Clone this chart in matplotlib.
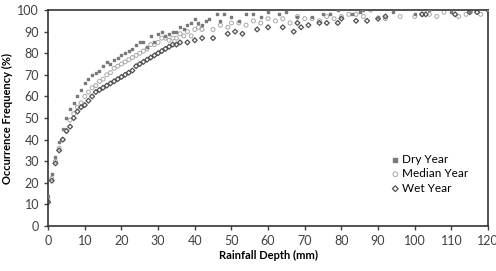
import matplotlib.pyplot as plt

# rainfall depth (mm) and occurrence frequency (%)
dry_x = [0, 1, 2, 3, 4, 5, 6, 7, 8, 9, 10, 11, 12, 13, 14, 15, 16, 17, 18, 19,
         20, 21, 22, 23, 24, 25, 26, 27, 28, 29, 30, 31, 32, 33, 34, 35, 36, 37, 38, 39,
         40, 41, 42, 43, 44, 46, 47, 48, 50, 52, 54, 56, 58, 60, 63, 65, 68, 72, 75,
         77, 79, 83, 85, 86, 90, 94, 100, 104, 110, 115, 120]
dry_y = [14, 24, 32, 39, 45, 50, 54, 57, 60, 63, 66, 68, 70, 71, 72, 74, 76, 75, 77, 78,
         79, 80, 81, 82, 84, 85, 85, 83, 88, 85, 89, 90, 88, 89, 90, 90, 92, 91, 93, 94,
         96, 94, 93, 95, 96, 98, 95, 98, 97, 95, 98, 98, 97, 99, 98, 99, 97, 97, 98,
         98, 100, 98, 99, 100, 97, 99, 98, 100, 99, 99, 100]

med_x = [0, 1, 2, 3, 4, 5, 6, 7, 8, 9, 10, 11, 12, 13, 14, 15, 16, 17, 18, 19,
         20, 21, 22, 23, 24, 25, 26, 27, 28, 29, 30, 31, 32, 33, 34, 35, 36, 37, 38, 39,
         40, 41, 42, 45, 47, 49, 50, 52, 54, 56, 58, 60, 62, 64, 66, 68, 70, 72, 74, 76,
         78, 80, 82, 84, 86, 88, 92, 96, 100, 102, 104, 106, 108, 112, 114, 118]
med_y = [12, 22, 30, 36, 40, 44, 49, 52, 55, 57, 60, 62, 64, 65, 67, 68, 70, 71, 73, 74,
         75, 76, 77, 78, 79, 80, 81, 82, 84, 84, 85, 87, 87, 86, 87, 87, 89, 88, 90, 88,
         91, 92, 91, 91, 93, 92, 94, 94, 93, 95, 94, 96, 95, 96, 94, 97, 96, 96, 95, 97,
         96, 97, 98, 98, 97, 100, 96, 97, 97, 98, 98, 97, 99, 97, 98, 98]

wet_x = [0, 1, 2, 3, 4, 5, 6, 7, 8, 9, 10, 11, 12, 13, 14, 15, 16, 17, 18, 19,
         20, 21, 22, 23, 24, 25, 26, 27, 28, 29, 30, 31, 32, 33, 34, 35, 36, 38, 40, 42,
         45, 49, 51, 53, 57, 60, 64, 67, 68, 69, 71, 74, 76, 79, 80, 84, 87, 90, 92,
         102, 103, 111, 115, 117, 120]
wet_y = [11, 21, 29, 35, 40, 44, 46, 50, 53, 55, 56, 58, 60, 62, 63, 64, 65, 66, 67, 68,
         69, 70, 71, 72, 74, 75, 76, 77, 78, 79, 80, 81, 82, 83, 84, 84, 85, 85, 86, 87,
         87, 89, 90, 89, 91, 92, 92, 90, 94, 92, 93, 94, 94, 94, 96, 95, 95, 96, 97,
         98, 98, 98, 99, 99, 100]

plt.rcParams['font.family'] = ['Lato', 'DejaVu Sans']

fig = plt.figure(figsize=(4.96, 2.71), dpi=100)
ax = fig.add_axes([0.097, 0.166, 0.887, 0.797])

ax.scatter(dry_x, dry_y, marker='s', s=4, color='#7a7a7a', label='Dry Year', zorder=3)
ax.scatter(med_x, med_y, marker='o', s=8, facecolors='none', edgecolors='#a8a8a8',
           linewidths=0.7, label='Median Year', zorder=2)
ax.scatter(wet_x, wet_y, marker='D', s=6, facecolors='none', edgecolors='#505050',
           linewidths=0.9, label='Wet Year', zorder=2)

ax.set_xlim(0, 120)
ax.set_ylim(0, 100)
ax.set_xticks(range(0, 121, 10))
ax.set_yticks(range(0, 101, 10))
ax.tick_params(labelsize=9, colors='#404040', length=3, width=1)
for sp in ax.spines.values():
    sp.set_color('#333333')
    sp.set_linewidth(1.2)

ax.set_xlabel('Rainfall Depth (mm)', fontsize=8, fontweight='bold', labelpad=2)
ax.set_ylabel('Occurrence Frequency (%)', fontsize=8, fontweight='bold', labelpad=3)

ax.legend(loc='lower right', bbox_to_anchor=(0.98, 0.1), frameon=False, fontsize=8.5,
          handletextpad=0.1, labelspacing=0.3, markerscale=1.2, handlelength=1.0)

fig.savefig('out.png', dpi=100)
